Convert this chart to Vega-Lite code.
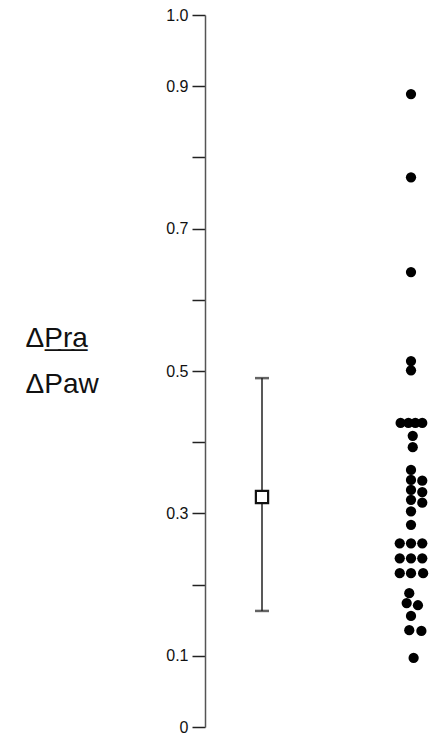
{
  "$schema": "https://vega.github.io/schema/vega-lite/v6.json",
  "width": 231,
  "height": 712,
  "autosize": {"type": "none"},
  "padding": {"left": 205, "top": 15, "right": 0, "bottom": 9},
  "background": "white",
  "config": {"view": {"stroke": null}, "font": "Liberation Sans"},
  "datasets": {
    "summary": [{"group": "mean", "mean": 0.323, "lo": 0.163, "hi": 0.49}],
    "points": [
      {"group": "individual", "v": 0.889, "j": 0},
      {"group": "individual", "v": 0.772, "j": 0},
      {"group": "individual", "v": 0.639, "j": 0},
      {"group": "individual", "v": 0.514, "j": 0},
      {"group": "individual", "v": 0.501, "j": 0},
      {"group": "individual", "v": 0.427, "j": -12},
      {"group": "individual", "v": 0.427, "j": -3},
      {"group": "individual", "v": 0.427, "j": 5},
      {"group": "individual", "v": 0.427, "j": 13},
      {"group": "individual", "v": 0.409, "j": 2},
      {"group": "individual", "v": 0.393, "j": 2},
      {"group": "individual", "v": 0.361, "j": 0},
      {"group": "individual", "v": 0.347, "j": 0},
      {"group": "individual", "v": 0.346, "j": 13},
      {"group": "individual", "v": 0.333, "j": 0},
      {"group": "individual", "v": 0.330, "j": 13},
      {"group": "individual", "v": 0.319, "j": 0},
      {"group": "individual", "v": 0.315, "j": 13},
      {"group": "individual", "v": 0.303, "j": 0},
      {"group": "individual", "v": 0.284, "j": 0},
      {"group": "individual", "v": 0.258, "j": -13},
      {"group": "individual", "v": 0.258, "j": 0},
      {"group": "individual", "v": 0.258, "j": 13},
      {"group": "individual", "v": 0.237, "j": -13},
      {"group": "individual", "v": 0.237, "j": 0},
      {"group": "individual", "v": 0.237, "j": 13},
      {"group": "individual", "v": 0.216, "j": -13},
      {"group": "individual", "v": 0.216, "j": 0},
      {"group": "individual", "v": 0.216, "j": 14},
      {"group": "individual", "v": 0.188, "j": -2},
      {"group": "individual", "v": 0.174, "j": -5},
      {"group": "individual", "v": 0.171, "j": 8},
      {"group": "individual", "v": 0.156, "j": 0},
      {"group": "individual", "v": 0.136, "j": -2},
      {"group": "individual", "v": 0.135, "j": 12},
      {"group": "individual", "v": 0.097, "j": 3}
    ]
  },
  "encoding": {
    "x": {
      "field": "group",
      "type": "nominal",
      "scale": {"type": "point", "domain": ["mean", "individual"], "range": [57, 206], "padding": 0},
      "axis": null
    }
  },
  "layer": [
    {
      "data": {"name": "summary"},
      "mark": {"type": "rule", "color": "#222", "strokeWidth": 1.5},
      "encoding": {
        "y": {
          "field": "lo",
          "type": "quantitative",
          "scale": {"domain": [0, 1], "nice": false, "zero": true},
          "axis": {
            "values": [0, 0.1, 0.2, 0.3, 0.4, 0.5, 0.6, 0.7, 0.8, 0.9, 1.0],
            "labelExpr": "datum.value == 0 ? '0' : ((round(datum.value * 10) % 2 == 1 || datum.value == 1) ? format(datum.value, '.1f') : '')",
            "grid": false,
            "tickSize": 13,
            "tickWidth": 1.5,
            "tickColor": "#222",
            "domainColor": "#555",
            "domainWidth": 1.5,
            "labelFontSize": 16,
            "labelColor": "#111",
            "labelPadding": 4,
            "title": ["ΔP̲r̲a̲", "ΔPaw"],
            "titleAngle": 0,
            "titleFontSize": 28,
            "titleFontWeight": "normal",
            "titleColor": "#111",
            "titleAlign": "left",
            "titleBaseline": "alphabetic",
            "titleX": -180,
            "titleY": 331,
            "titleLineHeight": 46
          }
        },
        "y2": {"field": "hi"}
      }
    },
    {
      "data": {"name": "summary"},
      "mark": {"type": "tick", "orient": "horizontal", "color": "#222", "thickness": 2.5, "size": 14},
      "encoding": {"y": {"field": "lo", "type": "quantitative"}}
    },
    {
      "data": {"name": "summary"},
      "mark": {"type": "tick", "orient": "horizontal", "color": "#222", "thickness": 2.5, "size": 14},
      "encoding": {"y": {"field": "hi", "type": "quantitative"}}
    },
    {
      "data": {"name": "summary"},
      "mark": {"type": "point", "shape": "square", "filled": false, "fill": "white", "fillOpacity": 1, "stroke": "#111", "strokeWidth": 2.2, "size": 150, "opacity": 1},
      "encoding": {"y": {"field": "mean", "type": "quantitative"}}
    },
    {
      "data": {"name": "points"},
      "mark": {"type": "circle", "color": "#000", "opacity": 1, "size": 105},
      "encoding": {
        "y": {"field": "v", "type": "quantitative"},
        "xOffset": {"field": "j", "type": "quantitative", "scale": {"domain": [-15, 15], "range": [-13, 13]}}
      }
    }
  ]
}
